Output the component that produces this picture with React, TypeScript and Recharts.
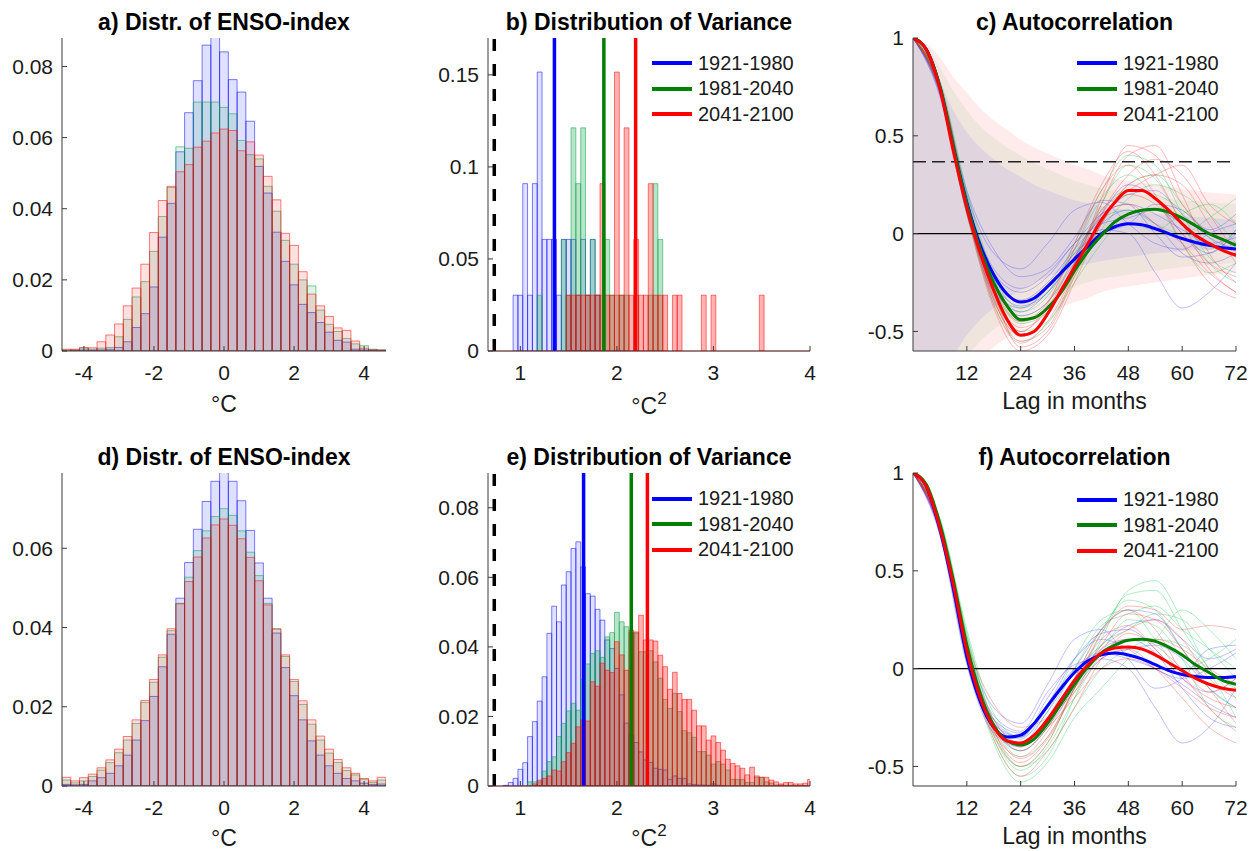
import React from "react";
import { ComposedChart, Bar, Line, Area, XAxis, YAxis, ReferenceLine } from "recharts";

const FONT = '"Liberation Sans", Arial, Helvetica, sans-serif';
const AXIS = "#3a3a3a";
const TEXT = "#1a1a1a";
const BLUE = "#0000ff";
const GREEN = "#007f00";
const RED = "#ff0000";
const HGREEN = "#00a040";

const PERIODS = ["1921-1980", "1981-2040", "2041-2100"];
const PERIOD_COLORS = [BLUE, GREEN, RED];

// ---- a/d: distribution of ENSO index ----
const ENSO_BINS = [-4.5, -4.25, -4, -3.75, -3.5, -3.25, -3, -2.75, -2.5, -2.25, -2, -1.75, -1.5, -1.25, -1, -0.75, -0.5, -0.25, 0,
  0.25, 0.5, 0.75, 1, 1.25, 1.5, 1.75, 2, 2.25, 2.5, 2.75, 3, 3.25, 3.5, 3.75, 4, 4.25, 4.5];
const ENSO_TICKS = [-4, -2, 0, 2, 4];

const A_BLUE = [0, 0.0002, 0.0003, 0.0002, 0.0003, 0.0005, 0.001, 0.0026, 0.0066, 0.0105, 0.018, 0.032, 0.0415, 0.056, 0.067, 0.076, 0.086, 0.089, 0.0841,
  0.0763, 0.0728, 0.0646, 0.0519, 0.0444, 0.0334, 0.0252, 0.0186, 0.0131, 0.0108, 0.008, 0.0053, 0.003, 0.0025, 0.0005, 0.0003, 0.0003, 0.0001];
const A_GREEN = [0.0003, 0.0003, 0.0008, 0.0005, 0.0008, 0.001, 0.004, 0.0089, 0.0152, 0.0195, 0.028, 0.0378, 0.046, 0.0574, 0.057, 0.07, 0.07, 0.07, 0.0685,
  0.0667, 0.0592, 0.0552, 0.054, 0.0463, 0.0393, 0.0311, 0.0244, 0.02, 0.0183, 0.0115, 0.0075, 0.0055, 0.0035, 0.002, 0.0015, 0.0005, 0.0003];
const A_RED = [0.0005, 0.0005, 0.001, 0.0009, 0.0026, 0.0045, 0.0076, 0.0127, 0.0177, 0.0244, 0.0333, 0.0423, 0.0463, 0.0504, 0.0524, 0.0573, 0.059, 0.0613, 0.0624,
  0.062, 0.0563, 0.0588, 0.0551, 0.0491, 0.0425, 0.0331, 0.0297, 0.0223, 0.016, 0.0127, 0.0097, 0.0065, 0.0058, 0.0028, 0.0008, 0.0003, 0.0003];

const D_BLUE = [0.0004, 0.0003, 0.0004, 0.0013, 0.0021, 0.0032, 0.0051, 0.0078, 0.0116, 0.0165, 0.0226, 0.0301, 0.0383, 0.0474, 0.0564, 0.0648, 0.0718, 0.0769, 0.0795,
  0.0769, 0.072, 0.0645, 0.0563, 0.0474, 0.0386, 0.0299, 0.0228, 0.0167, 0.0114, 0.0078, 0.0051, 0.0032, 0.0019, 0.0013, 0.0007, 0.0004, 0.0005];
const D_GREEN = [0.0015, 0.0008, 0.0013, 0.0024, 0.004, 0.0059, 0.0084, 0.0116, 0.0158, 0.0211, 0.0262, 0.0325, 0.0392, 0.0461, 0.0527, 0.0594, 0.0644, 0.068, 0.07,
  0.0683, 0.0644, 0.059, 0.0531, 0.0461, 0.0397, 0.0327, 0.0264, 0.0206, 0.0156, 0.0116, 0.0083, 0.0059, 0.0039, 0.0028, 0.0017, 0.0009, 0.0015];
const D_RED = [0.0022, 0.0013, 0.0021, 0.003, 0.0046, 0.0066, 0.0093, 0.0125, 0.0167, 0.0216, 0.0269, 0.0331, 0.0397, 0.046, 0.0516, 0.0578, 0.0626, 0.0659, 0.0674,
  0.0658, 0.0624, 0.0577, 0.0518, 0.0457, 0.0396, 0.0331, 0.0269, 0.0215, 0.0167, 0.0126, 0.0093, 0.0067, 0.0046, 0.0032, 0.0019, 0.0013, 0.0022];

// ---- b/e: distribution of variance ----
const VAR_BINS = [0.85, 0.9, 0.95, 1, 1.05, 1.1, 1.15, 1.2, 1.25, 1.3, 1.35, 1.4, 1.45, 1.5, 1.55, 1.6, 1.65, 1.7, 1.75, 1.8,
  1.85, 1.9, 1.95, 2, 2.05, 2.1, 2.15, 2.2, 2.25, 2.3, 2.35, 2.4, 2.45, 2.5, 2.55, 2.6, 2.65, 2.7, 2.75, 2.8,
  2.85, 2.9, 2.95, 3, 3.05, 3.1, 3.15, 3.2, 3.25, 3.3, 3.35, 3.4, 3.45, 3.5, 3.55, 3.6, 3.65, 3.7, 3.75, 3.8,
  3.85, 3.9, 3.95, 4];
const VAR_TICKS = [1, 2, 3, 4];
const OBS_VAR = 0.73;

const B_BLUE = [0, 0, 0.0303, 0.0303, 0.0909, 0.0303, 0.0909, 0.1515, 0.0606, 0.0606,
  0.0606, 0.0303, 0.0606, 0.0606, 0.0606, 0.0303, 0.0606, 0.0303, 0.0606, 0.0303,
  0, 0, 0, 0, 0, 0, 0, 0, 0, 0, 0, 0, 0, 0, 0, 0, 0, 0, 0, 0,
  0, 0, 0, 0, 0, 0, 0, 0, 0, 0, 0, 0, 0, 0, 0, 0, 0, 0, 0, 0, 0, 0, 0, 0];
const B_GREEN = [0, 0, 0, 0, 0, 0, 0, 0.0303, 0, 0,
  0, 0, 0.0606, 0.0303, 0.1212, 0.0909, 0.1212, 0.0303, 0.0606, 0.0303,
  0.0303, 0.0606, 0.0303, 0.0303, 0.0303, 0.0303, 0, 0.0303, 0, 0,
  0.0303, 0.0909, 0.0606, 0, 0, 0, 0, 0, 0, 0,
  0, 0, 0, 0, 0, 0, 0, 0, 0, 0, 0, 0, 0, 0, 0, 0, 0, 0, 0, 0, 0, 0, 0, 0];
const B_RED = [0, 0, 0, 0, 0, 0, 0, 0, 0, 0,
  0, 0, 0, 0.0303, 0.0303, 0.0303, 0.0303, 0.0303, 0.0303, 0.0303,
  0.0909, 0.0303, 0.0303, 0.1515, 0.0303, 0.1212, 0.0303, 0.0606, 0.0303, 0.0303,
  0.0909, 0.0303, 0.0303, 0.0303, 0, 0.0303, 0.0303, 0, 0, 0,
  0, 0.0303, 0, 0.0303, 0, 0, 0, 0, 0, 0,
  0, 0, 0, 0.0303, 0, 0, 0, 0, 0, 0, 0, 0, 0, 0];
const B_MEANS = [1.353, 1.865, 2.194];

const E_BLUE = [0.0002, 0.001, 0.0022, 0.0048, 0.0067, 0.0142, 0.0185, 0.0244, 0.0314, 0.0439,
  0.0517, 0.0472, 0.0578, 0.0616, 0.0683, 0.0702, 0.063, 0.0553, 0.0546, 0.0508,
  0.0477, 0.042, 0.0395, 0.0338, 0.0262, 0.0181, 0.0146, 0.0125, 0.0098, 0.0075,
  0.0068, 0.0051, 0.0048, 0.0046, 0.0019, 0.0029, 0.0022, 0.0022, 0.0006, 0.0004,
  0.0003, 0.0003, 0.0002, 0.0006, 0.0002, 0.0001, 0, 0, 0, 0,
  0, 0, 0, 0, 0, 0, 0, 0, 0, 0, 0, 0, 0, 0];
const E_GREEN = [0, 0, 0, 0, 0, 0.0012, 0.0012, 0.0012, 0.0043, 0.007,
  0.0084, 0.0142, 0.018, 0.0216, 0.0238, 0.0218, 0.0307, 0.0351, 0.0381, 0.0389,
  0.037, 0.0429, 0.0441, 0.0499, 0.0472, 0.0458, 0.0441, 0.044, 0.0386, 0.0386,
  0.0389, 0.0357, 0.031, 0.0249, 0.0223, 0.0266, 0.0214, 0.0159, 0.0153, 0.014,
  0.0099, 0.0099, 0.0089, 0.0063, 0.007, 0.0063, 0.0046, 0.0019, 0.0019, 0.0019,
  0.001, 0.001, 0.0025, 0.0025, 0.0012, 0.0008, 0.0003, 0.0003, 0.0002, 0.0002,
  0.0001, 0.0001, 0.0001, 0];
const E_RED = [0, 0, 0, 0, 0, 0, 0.0006, 0.0017, 0.0022, 0.0029,
  0.0046, 0.0043, 0.007, 0.0096, 0.0123, 0.017, 0.019, 0.0187, 0.03, 0.0287,
  0.0353, 0.0333, 0.0326, 0.0415, 0.0377, 0.0333, 0.0448, 0.0443, 0.0491, 0.042,
  0.042, 0.0417, 0.0376, 0.0343, 0.0278, 0.0327, 0.0266, 0.0249, 0.0249, 0.0218,
  0.0173, 0.0173, 0.0132, 0.0144, 0.0125, 0.0103, 0.0077, 0.0065, 0.0058, 0.0051,
  0.0032, 0.0054, 0.0029, 0.0025, 0.0025, 0.0017, 0.0012, 0.0006, 0.001, 0.001,
  0.0006, 0.0006, 0.0008, 0.0019];
const E_MEANS = [1.655, 2.149, 2.316];

// ---- c/f: autocorrelation ----
const LAGS = [0, 3, 6, 9, 12, 15, 18, 21, 24, 27, 30, 33, 36, 39, 42, 45, 48, 51, 54, 57, 60, 63, 66, 69, 72];
const LAG_TICKS = [12, 24, 36, 48, 60, 72];
const ACF_TICKS = [-0.5, 0, 0.5, 1];
const SIG_LEVEL = 0.3675;

const C_BLUE = [1, 0.94, 0.75, 0.44, 0.16, -0.06, -0.21, -0.31, -0.35, -0.33, -0.27, -0.2, -0.13, -0.065, 0, 0.035, 0.05, 0.045, 0.025, 0, -0.025, -0.045, -0.06, -0.072, -0.078];
const C_GREEN = [1, 0.94, 0.75, 0.44, 0.15, -0.08, -0.25, -0.37, -0.44, -0.43, -0.38, -0.3, -0.19, -0.09, -0.01, 0.06, 0.1, 0.12, 0.125, 0.11, 0.08, 0.04, 0, -0.03, -0.06];
const C_RED = [1, 0.94, 0.74, 0.42, 0.13, -0.1, -0.29, -0.44, -0.52, -0.5, -0.41, -0.29, -0.17, -0.05, 0.07, 0.16, 0.22, 0.22, 0.18, 0.12, 0.05, -0.01, -0.05, -0.085, -0.11];

// half-widths of the shaded envelopes in c
const BAND_BLUE = [1, 0.93, 0.78, 0.63, 0.52, 0.44, 0.38, 0.33, 0.29, 0.25, 0.22, 0.195, 0.17, 0.155, 0.14, 0.13, 0.12, 0.11, 0.1, 0.095, 0.09, 0.085, 0.08, 0.075, 0.07];
const BAND_GREEN = [1, 0.95, 0.85, 0.73, 0.63, 0.55, 0.49, 0.44, 0.4, 0.36, 0.33, 0.3, 0.27, 0.25, 0.23, 0.22, 0.21, 0.2, 0.19, 0.18, 0.17, 0.165, 0.16, 0.155, 0.15];
const BAND_RED = [1, 0.97, 0.9, 0.8, 0.72, 0.64, 0.58, 0.53, 0.48, 0.44, 0.41, 0.38, 0.35, 0.33, 0.3, 0.28, 0.27, 0.26, 0.25, 0.24, 0.23, 0.22, 0.21, 0.205, 0.2];

const F_BLUE = [1, 0.93, 0.71, 0.41, 0.06, -0.17, -0.3, -0.35, -0.34, -0.28, -0.19, -0.1, -0.02, 0.04, 0.07, 0.08, 0.07, 0.05, 0.02, -0.01, -0.03, -0.04, -0.045, -0.045, -0.04];
const F_GREEN = [1, 0.94, 0.74, 0.45, 0.12, -0.13, -0.29, -0.37, -0.39, -0.36, -0.28, -0.18, -0.08, 0.01, 0.08, 0.12, 0.145, 0.15, 0.14, 0.11, 0.07, 0.02, -0.02, -0.06, -0.08];
const F_RED = [1, 0.93, 0.72, 0.43, 0.09, -0.15, -0.3, -0.37, -0.38, -0.34, -0.26, -0.16, -0.06, 0.02, 0.08, 0.105, 0.11, 0.1, 0.07, 0.03, -0.01, -0.05, -0.08, -0.1, -0.11];

// individual ensemble members (thin lines)
const THIN_LAGS = [0, 6, 12, 18, 24, 30, 36, 42, 48, 54, 60, 66, 72];
const C_THIN_BLUE = [
  [1, 0.74, 0.17, -0.18, -0.28, -0.2, -0.05, 0.1, 0.15, 0.1, 0.02, -0.05, -0.02],
  [1, 0.7, 0.1, -0.28, -0.4, -0.3, -0.12, 0.05, 0.12, 0.05, -0.1, -0.15, -0.1],
  [1, 0.76, 0.2, -0.1, -0.18, -0.05, 0.12, 0.16, 0.05, -0.05, -0.08, 0, 0.05],
  [1, 0.72, 0.12, -0.26, -0.42, -0.35, -0.15, 0.02, 0, -0.2, -0.38, -0.3, -0.15],
  [1, 0.73, 0.14, -0.23, -0.34, -0.25, -0.08, 0.08, 0.2, 0.22, 0.1, -0.02, -0.08],
  [1, 0.71, 0.11, -0.3, -0.38, -0.28, -0.1, 0, 0.05, 0.15, 0.12, 0.02, 0.1],
  [1, 0.75, 0.22, -0.08, -0.22, -0.18, -0.02, 0.17, 0.15, 0, -0.12, -0.1, 0],
  [1, 0.74, 0.16, -0.2, -0.3, -0.22, -0.05, 0.05, 0.08, 0.12, 0.05, -0.05, -0.12],
  [1, 0.72, 0.13, -0.25, -0.37, -0.3, -0.12, 0.1, 0.25, 0.18, 0, -0.1, 0.02],
];
const C_THIN_GREEN = [
  [1, 0.76, 0.16, -0.28, -0.45, -0.38, -0.18, 0.05, 0.25, 0.3, 0.15, -0.02, -0.12],
  [1, 0.73, 0.12, -0.34, -0.52, -0.42, -0.15, 0.15, 0.35, 0.28, 0.05, -0.15, -0.25],
  [1, 0.78, 0.22, -0.2, -0.35, -0.28, -0.1, 0.08, 0.12, 0.05, 0, 0.08, 0.18],
  [1, 0.74, 0.14, -0.3, -0.5, -0.45, -0.22, 0.02, 0.18, 0.25, 0.2, 0.1, -0.05],
  [1, 0.75, 0.18, -0.24, -0.4, -0.32, -0.08, 0.18, 0.3, 0.18, -0.05, -0.2, -0.15],
  [1, 0.72, 0.1, -0.36, -0.55, -0.46, -0.25, -0.05, 0.1, 0.12, 0.05, -0.08, 0.02],
  [1, 0.77, 0.2, -0.22, -0.38, -0.3, -0.05, 0.22, 0.4, 0.35, 0.1, -0.12, -0.2],
  [1, 0.74, 0.14, -0.28, -0.46, -0.4, -0.2, 0, 0.05, 0.02, 0.1, 0.15, 0.05],
  [1, 0.75, 0.17, -0.26, -0.42, -0.35, -0.12, 0.12, 0.22, 0.2, 0.12, 0, -0.05],
];
const C_THIN_RED = [
  [1, 0.75, 0.14, -0.33, -0.55, -0.48, -0.2, 0.15, 0.4, 0.45, 0.2, -0.1, -0.25],
  [1, 0.72, 0.1, -0.38, -0.6, -0.52, -0.25, 0.05, 0.25, 0.3, 0.25, 0.05, -0.15],
  [1, 0.77, 0.18, -0.26, -0.45, -0.35, -0.08, 0.22, 0.35, 0.2, -0.05, -0.25, -0.33],
  [1, 0.74, 0.12, -0.34, -0.52, -0.42, -0.15, 0.1, 0.15, 0.05, -0.05, -0.2, -0.3],
  [1, 0.73, 0.13, -0.3, -0.48, -0.4, -0.18, 0.18, 0.45, 0.4, 0.15, 0, -0.05],
  [1, 0.76, 0.16, -0.28, -0.5, -0.38, -0.12, 0.12, 0.22, 0.3, 0.35, 0.15, 0.05],
  [1, 0.76, 0.17, -0.3, -0.58, -0.5, -0.22, 0.1, 0.3, 0.38, 0.3, 0.1, -0.1],
  [1, 0.74, 0.14, -0.32, -0.5, -0.36, -0.05, 0.25, 0.42, 0.3, 0.05, -0.18, -0.3],
  [1, 0.73, 0.12, -0.36, -0.56, -0.45, -0.2, 0.05, 0.2, 0.15, 0, -0.15, -0.22],
];
const F_THIN_BLUE = [
  [1, 0.7, 0.07, -0.26, -0.35, -0.15, 0.05, 0.15, 0.1, 0, -0.05, 0, 0.08],
  [1, 0.68, 0.02, -0.33, -0.4, -0.25, -0.05, 0.1, 0.15, 0.08, -0.1, -0.25, -0.3],
  [1, 0.73, 0.12, -0.2, -0.28, -0.08, 0.15, 0.2, 0.05, -0.1, -0.05, 0.1, 0.12],
  [1, 0.69, 0.04, -0.3, -0.42, -0.3, -0.1, 0.05, 0.1, 0.12, 0.05, -0.1, -0.2],
  [1, 0.71, 0.08, -0.28, -0.36, -0.2, 0, 0.2, 0.3, 0.28, 0.1, -0.05, -0.05],
  [1, 0.72, 0.1, -0.24, -0.32, -0.12, 0.02, 0.05, 0, -0.2, -0.38, -0.3, -0.1],
  [1, 0.72, 0.09, -0.26, -0.33, -0.18, 0.05, 0.18, 0.2, 0.1, -0.05, -0.12, -0.05],
  [1, 0.7, 0.05, -0.31, -0.38, -0.22, -0.02, 0.12, 0.22, 0.25, 0.15, 0.05, 0.1],
  [1, 0.71, 0.07, -0.28, -0.35, -0.18, 0, 0.08, 0.05, 0, -0.08, -0.18, -0.25],
];
const F_THIN_GREEN = [
  [1, 0.75, 0.14, -0.3, -0.42, -0.3, -0.05, 0.2, 0.35, 0.3, 0.1, -0.1, -0.2],
  [1, 0.73, 0.1, -0.36, -0.55, -0.45, -0.15, 0.15, 0.4, 0.45, 0.25, 0, -0.1],
  [1, 0.77, 0.2, -0.23, -0.35, -0.22, 0.05, 0.25, 0.3, 0.15, 0, 0.05, 0.15],
  [1, 0.74, 0.12, -0.33, -0.5, -0.42, -0.2, 0, 0.1, 0.15, 0.12, -0.02, -0.25],
  [1, 0.76, 0.17, -0.26, -0.38, -0.25, 0, 0.22, 0.28, 0.32, 0.2, 0.1, 0],
  [1, 0.72, 0.08, -0.38, -0.58, -0.48, -0.25, -0.1, 0.05, 0.15, 0.3, 0.2, 0.05],
  [1, 0.76, 0.18, -0.28, -0.45, -0.35, -0.1, 0.18, 0.38, 0.4, 0.2, 0, -0.15],
  [1, 0.75, 0.16, -0.31, -0.5, -0.38, -0.1, 0.12, 0.2, 0.28, 0.25, 0.1, -0.05],
  [1, 0.73, 0.11, -0.34, -0.52, -0.4, -0.15, 0.08, 0.25, 0.22, 0.05, -0.2, -0.3],
];
const F_THIN_RED = [
  [1, 0.73, 0.1, -0.28, -0.4, -0.28, -0.05, 0.15, 0.22, 0.1, -0.05, -0.15, -0.2],
  [1, 0.71, 0.07, -0.34, -0.5, -0.38, -0.1, 0.1, 0.2, 0.25, 0.15, -0.05, -0.15],
  [1, 0.75, 0.14, -0.18, -0.3, -0.25, -0.12, 0.05, 0.1, 0, -0.15, -0.3, -0.38],
  [1, 0.72, 0.08, -0.32, -0.45, -0.32, -0.08, 0.18, 0.32, 0.3, 0.2, 0.22, 0.2],
  [1, 0.74, 0.12, -0.26, -0.38, -0.3, -0.15, 0, 0.05, 0, -0.1, -0.2, -0.25],
  [1, 0.7, 0.06, -0.36, -0.55, -0.42, -0.2, 0.05, 0.18, 0.12, 0, -0.12, -0.05],
  [1, 0.74, 0.11, -0.3, -0.46, -0.35, -0.1, 0.12, 0.28, 0.25, 0.1, -0.1, -0.28],
  [1, 0.73, 0.09, -0.32, -0.48, -0.36, -0.12, 0.08, 0.15, 0.15, 0.1, 0, -0.08],
  [1, 0.72, 0.08, -0.28, -0.42, -0.3, -0.05, 0.2, 0.3, 0.2, -0.02, -0.2, -0.32],
];

// plot areas (px in the page)
type Rect = { x: number; y: number; w: number; h: number };
const RA: Rect = { x: 62, y: 38, w: 324, h: 313 };
const RB: Rect = { x: 488, y: 38, w: 322, h: 313 };
const RC: Rect = { x: 913, y: 38, w: 323, h: 313 };
const RD: Rect = { x: 62, y: 473, w: 324, h: 313 };
const RE: Rect = { x: 488, y: 473, w: 322, h: 313 };
const RF: Rect = { x: 913, y: 473, w: 323, h: 313 };

const PAD_L = 80;
const PAD_R = 30;
const PAD_T = 20;
const PAD_B = 50;

const tickStyle = { fontSize: 21, fill: TEXT, fontFamily: FONT };

const histRows = (bins: number[], b: number[], g: number[], r: number[]) =>
  bins.map((x, i) => ({ x, b: b[i], g: g[i], r: r[i] }));

const acfRows = (b: number[], g: number[], r: number[], bands?: boolean) =>
  LAGS.map((lag, i) => ({
    lag,
    b: b[i],
    g: g[i],
    r: r[i],
    bb: bands ? [-BAND_BLUE[i], BAND_BLUE[i]] : undefined,
    bg: bands ? [-BAND_GREEN[i], BAND_GREEN[i]] : undefined,
    br: bands ? [-BAND_RED[i], BAND_RED[i]] : undefined,
  }));

const thinRows = (vals: number[]) => THIN_LAGS.map((lag, i) => ({ lag, v: vals[i] }));

interface HistProps {
  rect: Rect;
  rows: any[];
  xDomain: [number, number];
  xTicks: number[];
  yDomain: [number, number];
  yTicks: number[];
  barPx: number;
  box?: boolean;
  alphas: number[];
  means?: number[];
}

function HistChart({ rect, rows, xDomain, xTicks, yDomain, yTicks, barPx, box, alphas, means }: HistProps) {
  const colors = [BLUE, HGREEN, RED];
  const keys = ["b", "g", "r"];
  return (
    <div style={{ position: "absolute", left: rect.x - PAD_L, top: rect.y - PAD_T }}>
      <ComposedChart
        width={rect.w + PAD_L + PAD_R}
        height={rect.h + PAD_T + PAD_B}
        data={rows}
        margin={{ top: PAD_T, right: PAD_R, bottom: 0, left: 0 }}
      >
        <XAxis xAxisId="b" type="number" dataKey="x" domain={xDomain} ticks={xTicks} interval={0} allowDataOverflow
          height={PAD_B} tickSize={-5} tickMargin={19} tick={tickStyle} stroke={AXIS} />
        <XAxis xAxisId="g" type="number" dataKey="x" domain={xDomain} allowDataOverflow hide />
        <XAxis xAxisId="r" type="number" dataKey="x" domain={xDomain} allowDataOverflow hide />
        <YAxis yAxisId="l" type="number" domain={yDomain} ticks={yTicks} interval={0} allowDataOverflow
          width={PAD_L} tickSize={-5} tickMargin={14} tick={tickStyle} stroke={AXIS} />
        {box && (
          <XAxis xAxisId="top" orientation="top" type="number" domain={xDomain} ticks={xTicks} interval={0}
            allowDataOverflow height={0} mirror tick={false} tickSize={5} stroke={AXIS} />
        )}
        {box && (
          <YAxis yAxisId="right" orientation="right" type="number" domain={yDomain} ticks={yTicks} interval={0}
            allowDataOverflow width={0} mirror tick={false} tickSize={5} stroke={AXIS} />
        )}
        {keys.map((k, i) => (
          <Bar
            key={k}
            xAxisId={k}
            yAxisId="l"
            dataKey={k}
            barSize={barPx}
            fill={colors[i]}
            fillOpacity={alphas[i]}
            stroke={colors[i]}
            strokeOpacity={0.5}
            strokeWidth={1}
            isAnimationActive={false}
          />
        ))}
        {means && (
          <ReferenceLine xAxisId="b" yAxisId="l" y={0} stroke={RED} strokeOpacity={0.5} />
        )}
        {means && (
          <ReferenceLine xAxisId="b" yAxisId="l" x={OBS_VAR} stroke="#000" strokeWidth={3.5} strokeDasharray="12 13" />
        )}
        {means &&
          means.map((m, i) => (
            <ReferenceLine key={i} xAxisId="b" yAxisId="l" x={m} stroke={PERIOD_COLORS[i]} strokeWidth={3.5} />
          ))}
      </ComposedChart>
    </div>
  );
}

interface AcfProps {
  rect: Rect;
  rows: any[];
  thin: number[][][];
  bands?: boolean;
}

function AcfChart({ rect, rows, thin, bands }: AcfProps) {
  const thinColors = ["#3030ff", "#00c040", "#ff2020"];
  return (
    <div style={{ position: "absolute", left: rect.x - PAD_L, top: rect.y - PAD_T }}>
      <ComposedChart
        width={rect.w + PAD_L + PAD_R}
        height={rect.h + PAD_T + PAD_B}
        data={rows}
        margin={{ top: PAD_T, right: PAD_R, bottom: 0, left: 0 }}
      >
        <XAxis type="number" dataKey="lag" domain={[0, 72]} ticks={LAG_TICKS} interval={0} allowDataOverflow
          height={PAD_B} tickSize={-5} tickMargin={19} tick={tickStyle} stroke={AXIS} />
        <YAxis type="number" domain={[-0.6, 1]} ticks={ACF_TICKS} interval={0} allowDataOverflow
          width={PAD_L} tickSize={-5} tickMargin={14} tick={tickStyle} stroke={AXIS} />
        {bands && <Area dataKey="br" type="monotone" fill={RED} fillOpacity={0.08} stroke="none" isAnimationActive={false} />}
        {bands && <Area dataKey="bg" type="monotone" fill="#008000" fillOpacity={0.06} stroke="none" isAnimationActive={false} />}
        {bands && <Area dataKey="bb" type="monotone" fill={BLUE} fillOpacity={0.065} stroke="none" isAnimationActive={false} />}
        {thin.map((group, gi) =>
          group.map((vals, i) => (
            <Line
              key={`t${gi}-${i}`}
              data={thinRows(vals)}
              dataKey="v"
              type="monotone"
              stroke={thinColors[gi]}
              strokeOpacity={0.3}
              strokeWidth={1}
              dot={false}
              activeDot={false}
              isAnimationActive={false}
            />
          ))
        )}
        <ReferenceLine y={0} stroke="#000" strokeWidth={1.2} />
        {bands && <ReferenceLine y={SIG_LEVEL} stroke="#222" strokeWidth={1.5} strokeDasharray="13 6" />}
        {["b", "g", "r"].map((k, i) => (
          <Line
            key={k}
            dataKey={k}
            type="monotone"
            stroke={PERIOD_COLORS[i]}
            strokeWidth={3}
            dot={false}
            activeDot={false}
            isAnimationActive={false}
          />
        ))}
      </ComposedChart>
    </div>
  );
}

function Title({ rect, cy, text }: { rect: Rect; cy: number; text: string }) {
  return (
    <div
      style={{
        position: "absolute",
        left: rect.x + rect.w / 2 - 220,
        width: 440,
        top: cy - 14,
        lineHeight: "28px",
        textAlign: "center",
        fontSize: 23,
        fontWeight: "bold",
        color: "#000",
      }}
    >
      {text}
    </div>
  );
}

function AxisLabel({ rect, cy, children }: { rect: Rect; cy: number; children: React.ReactNode }) {
  return (
    <div
      style={{
        position: "absolute",
        left: rect.x + rect.w / 2 - 150,
        width: 300,
        top: cy - 15,
        height: 30,
        lineHeight: "30px",
        textAlign: "center",
        fontSize: 23,
        color: TEXT,
      }}
    >
      {children}
    </div>
  );
}

function PeriodLegend({ left, top }: { left: number; top: number }) {
  return (
    <div style={{ position: "absolute", left, top, fontSize: 20, color: TEXT }}>
      {PERIODS.map((p, i) => (
        <div key={p} style={{ display: "flex", alignItems: "center", height: 25.5 }}>
          <span style={{ display: "inline-block", width: 40, height: 4, background: PERIOD_COLORS[i], marginRight: 6 }} />
          <span>{p}</span>
        </div>
      ))}
    </div>
  );
}

const Deg = () => <span>°C</span>;
const DegSq = () => (
  <span>
    °C<span style={{ fontSize: 17, position: "relative", top: -10 }}>2</span>
  </span>
);

export default function App() {
  const histAlphaA = [0.12, 0.12, 0.12];
  const histAlphaB = [0.12, 0.28, 0.3];
  return (
    <div
      style={{
        position: "absolute",
        left: 0,
        top: 0,
        width: 1257,
        height: 851,
        background: "#fff",
        fontFamily: FONT,
        overflow: "hidden",
      }}
    >
      <HistChart rect={RA} rows={histRows(ENSO_BINS, A_BLUE, A_GREEN, A_RED)} xDomain={[-4.625, 4.625]} xTicks={ENSO_TICKS}
        yDomain={[0, 0.088]} yTicks={[0, 0.02, 0.04, 0.06, 0.08]} barPx={8.72} box alphas={histAlphaA} />
      <HistChart rect={RB} rows={histRows(VAR_BINS, B_BLUE, B_GREEN, B_RED)} xDomain={[0.665, 4]} xTicks={VAR_TICKS}
        yDomain={[0, 0.17]} yTicks={[0, 0.05, 0.1, 0.15]} barPx={4.8} alphas={histAlphaB} means={B_MEANS} />
      <AcfChart rect={RC} rows={acfRows(C_BLUE, C_GREEN, C_RED, true)} thin={[C_THIN_BLUE, C_THIN_GREEN, C_THIN_RED]} bands />

      <HistChart rect={RD} rows={histRows(ENSO_BINS, D_BLUE, D_GREEN, D_RED)} xDomain={[-4.625, 4.625]} xTicks={ENSO_TICKS}
        yDomain={[0, 0.079]} yTicks={[0, 0.02, 0.04, 0.06]} barPx={8.72} box alphas={histAlphaA} />
      <HistChart rect={RE} rows={histRows(VAR_BINS, E_BLUE, E_GREEN, E_RED)} xDomain={[0.665, 4]} xTicks={VAR_TICKS}
        yDomain={[0, 0.09]} yTicks={[0, 0.02, 0.04, 0.06, 0.08]} barPx={4.8} alphas={histAlphaB} means={E_MEANS} />
      <AcfChart rect={RF} rows={acfRows(F_BLUE, F_GREEN, F_RED)} thin={[F_THIN_BLUE, F_THIN_GREEN, F_THIN_RED]} />

      <Title rect={RA} cy={22} text="a) Distr. of ENSO-index" />
      <Title rect={RB} cy={22} text="b) Distribution of Variance" />
      <Title rect={RC} cy={22} text="c) Autocorrelation" />
      <Title rect={RD} cy={457} text="d) Distr. of ENSO-index" />
      <Title rect={RE} cy={457} text="e) Distribution of Variance" />
      <Title rect={RF} cy={457} text="f) Autocorrelation" />

      <AxisLabel rect={RA} cy={404}><Deg /></AxisLabel>
      <AxisLabel rect={RB} cy={406}><DegSq /></AxisLabel>
      <AxisLabel rect={RC} cy={401}>Lag in months</AxisLabel>
      <AxisLabel rect={RD} cy={838}><Deg /></AxisLabel>
      <AxisLabel rect={RE} cy={838}><DegSq /></AxisLabel>
      <AxisLabel rect={RF} cy={836}>Lag in months</AxisLabel>

      <PeriodLegend left={652} top={50.5} />
      <PeriodLegend left={1077} top={50.5} />
      <PeriodLegend left={652} top={486} />
      <PeriodLegend left={1077} top={487} />
    </div>
  );
}
